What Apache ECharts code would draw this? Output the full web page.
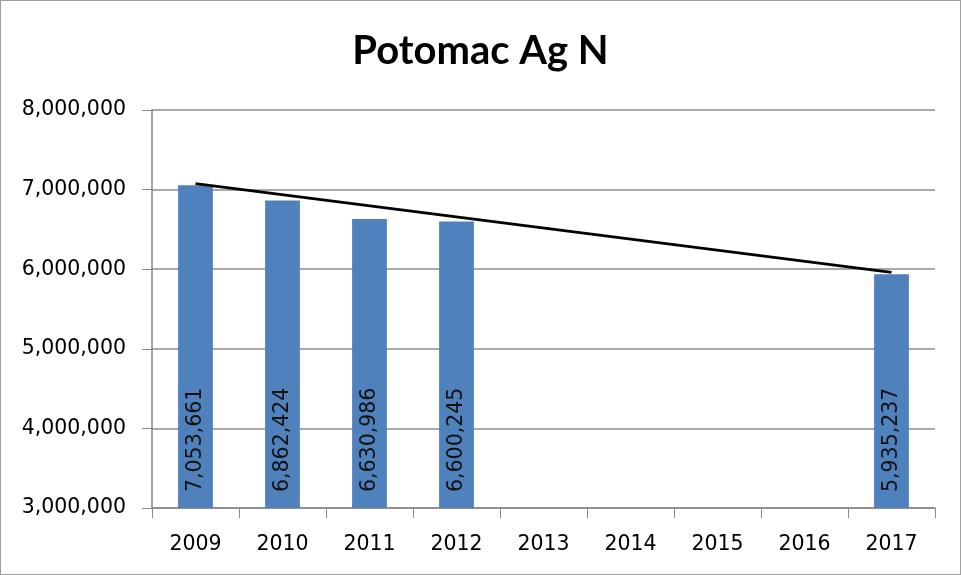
<!DOCTYPE html>
<html>
<head>
<meta charset="utf-8">
<script src="https://cdn.jsdelivr.net/npm/echarts@6/dist/echarts.min.js"></script>
<style>
html, body { margin: 0; padding: 0; background: #fff; }
#main { width: 959px; height: 573px; border: 1px solid #a0a0a0; }
</style>
</head>
<body>
<div id="main"></div>
<script>
// 年份与数值
var years = ['2009', '2010', '2011', '2012', '2013', '2014', '2015', '2016', '2017'];
var nitrogen = [7053661, 6862424, 6630986, 6600245, null, null, null, null, 5935237];
// 趋势线两端
var trend = [7075000, null, null, null, null, null, null, null, 5960000];
var yTicks = [3000000, 8000000, 1000000]; // min, max, interval

function fmt(v) {
	return String(v).replace(/\B(?=(\d{3})+(?!\d))/g, ',');
}

var myChart = echarts.init(document.getElementById('main'));
var option = {
	animation: false,
	title: {
		text: 'Potomac Ag N',
		left: 'center',
		top: 25,
		textStyle: { fontFamily: 'Lato', fontWeight: 'bold', fontSize: 40, color: '#000' }
	},
	grid: { left: 151, right: 25, top: 109, bottom: 66 },
	xAxis: {
		type: 'category',
		data: years,
		axisLine: { lineStyle: { color: '#888', width: 1.5 } },
		axisTick: { show: true, length: 10, lineStyle: { color: '#888' } },
		axisLabel: { fontFamily: 'DejaVu Sans', fontSize: 20.5, color: '#000', margin: 26 }
	},
	yAxis: {
		type: 'value',
		min: yTicks[0],
		max: yTicks[1],
		interval: yTicks[2],
		axisLine: { show: true, lineStyle: { color: '#888', width: 1.5 } },
		axisTick: { show: true, length: 10, lineStyle: { color: '#888' } },
		splitLine: { lineStyle: { color: '#8c8c8c', width: 1.5 } },
		axisLabel: {
			fontFamily: 'DejaVu Sans', fontSize: 20.5, color: '#000', margin: 26,
			formatter: fmt
		}
	},
	series: [{
		type: 'bar',
		data: nitrogen,
		barWidth: '40%',
		itemStyle: { color: '#4f81bd' },
		label: {
			show: true,
			position: 'insideBottom',
			rotate: 90,
			align: 'left',
			verticalAlign: 'middle',
			distance: 16,
			fontFamily: 'DejaVu Sans',
			fontSize: 20.5,
			color: '#111',
			formatter: function (p) { return fmt(p.value); }
		},
		z: 2
	}, {
		type: 'line',
		data: trend,
		connectNulls: true,
		symbol: 'none',
		lineStyle: { color: '#000', width: 3 },
		z: 3
	}]
};
myChart.setOption(option);
</script>
</body>
</html>
